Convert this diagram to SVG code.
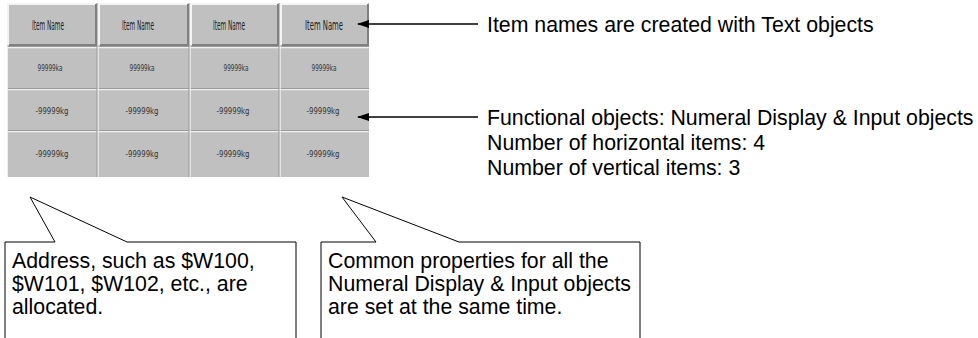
<svg xmlns="http://www.w3.org/2000/svg" width="978" height="338" viewBox="0 0 978 338">
<style>
.cell{fill:#c0c0c0}
.hi{stroke:#f4f4f4;stroke-width:2;fill:none}
.sh{stroke:#808080;stroke-width:2;fill:none}
.hdr{font-family:"DejaVu Sans Condensed","Liberation Sans Narrow","Liberation Sans",sans-serif;font-size:14px;fill:#222;text-anchor:middle}
.val{font-family:"DejaVu Sans Condensed","Liberation Sans",sans-serif;font-size:9px;fill:#333;text-anchor:middle}
.lbl{font-family:"Liberation Sans",Arial,sans-serif;font-size:21.3px;fill:#000}
.line{stroke:#000;stroke-width:1.5;fill:none}
.call{stroke:#000;stroke-width:1;fill:#fff}
</style>
<defs>
<marker id="ah" viewBox="0 0 12 10" refX="11" refY="5" markerWidth="12" markerHeight="10" markerUnits="userSpaceOnUse" orient="auto">
<path d="M0,1 L12,5 L0,9 Z" fill="#000"/>
</marker>
</defs>
<g id="grid">
<rect x="7" y="3" width="362" height="174" fill="#c0c0c0"/>
<g id="header">
<g id="h1"><rect class="cell" x="8" y="3" width="89" height="43"/><path class="hi" d="M8,45 V4 H96"/><path class="sh" d="M9,45 H96 V4"/><text class="hdr" x="48" y="30" textLength="32" lengthAdjust="spacingAndGlyphs">Item Name</text></g>
<g id="h2"><rect class="cell" x="99" y="3" width="90" height="43"/><path class="hi" d="M99,45 V4 H188"/><path class="sh" d="M100,45 H188 V4"/><text class="hdr" x="138" y="30" textLength="32" lengthAdjust="spacingAndGlyphs">Item Name</text></g>
<g id="h3"><rect class="cell" x="191" y="3" width="88" height="43"/><path class="hi" d="M191,45 V4 H278"/><path class="sh" d="M192,45 H278 V4"/><text class="hdr" x="229" y="30" textLength="32" lengthAdjust="spacingAndGlyphs">Item Name</text></g>
<g id="h4"><rect class="cell" x="281" y="3" width="88" height="43"/><path class="hi" d="M281,45 V4 H368"/><path class="sh" d="M282,45 H368 V4"/><text class="hdr" x="324" y="30" textLength="38" lengthAdjust="spacingAndGlyphs">Item Name</text></g>
</g>
<g id="rows">
<path d="M7,47.5 H369 M7,89.5 H369 M7,131.5 H369" stroke="#f0f0f0" stroke-width="1.5"/>
<path d="M7,46.5 H369 M7,88.5 H369 M7,130.5 H369" stroke="#9a9a9a" stroke-width="1"/>
<path d="M98,46 V177 M190,46 V177 M280,46 V177" stroke="#f0f0f0" stroke-width="1.5"/>
<path d="M97,46 V177 M189,46 V177 M279,46 V177" stroke="#9a9a9a" stroke-width="1"/>
<path d="M7.5,46 V177" stroke="#f0f0f0" stroke-width="1"/>
<g id="r1">
<text class="val" x="50" y="71" textLength="25" lengthAdjust="spacingAndGlyphs">99999ka</text><text class="val" x="142" y="71" textLength="25" lengthAdjust="spacingAndGlyphs">99999ka</text><text class="val" x="236" y="71" textLength="25" lengthAdjust="spacingAndGlyphs">99999ka</text><text class="val" x="324" y="71" textLength="25" lengthAdjust="spacingAndGlyphs">99999ka</text>
</g>
<g id="r2">
<text class="val" x="52" y="114" textLength="33" lengthAdjust="spacingAndGlyphs">-99999kg</text><text class="val" x="142" y="114" textLength="33" lengthAdjust="spacingAndGlyphs">-99999kg</text><text class="val" x="233" y="114" textLength="33" lengthAdjust="spacingAndGlyphs">-99999kg</text><text class="val" x="323" y="114" textLength="33" lengthAdjust="spacingAndGlyphs">-99999kg</text>
</g>
<g id="r3">
<text class="val" x="52" y="157" textLength="33" lengthAdjust="spacingAndGlyphs">-99999kg</text><text class="val" x="142" y="157" textLength="33" lengthAdjust="spacingAndGlyphs">-99999kg</text><text class="val" x="233" y="157" textLength="33" lengthAdjust="spacingAndGlyphs">-99999kg</text><text class="val" x="323" y="157" textLength="33" lengthAdjust="spacingAndGlyphs">-99999kg</text>
</g>
</g>
</g>
<g id="connectors">
<line class="line" x1="478" y1="24" x2="358" y2="24" marker-end="url(#ah)"/>
<line class="line" x1="478" y1="117" x2="358" y2="117" marker-end="url(#ah)"/>
</g>
<g id="label-top"><text class="lbl" x="487" y="32">Item names are created with Text objects</text></g>
<g id="label-func">
<text class="lbl" x="487" y="125">Functional objects: Numeral Display &amp; Input objects</text>
<text class="lbl" x="487" y="150">Number of horizontal items: 4</text>
<text class="lbl" x="487" y="175">Number of vertical items: 3</text>
</g>
<g id="callout1">
<path class="call" d="M5,339 V242 H55 L30,197 L127,242 H296 V339"/>
<text class="lbl" x="12" y="268">Address, such as $W100,</text>
<text class="lbl" x="12" y="291">$W101, $W102, etc., are</text>
<text class="lbl" x="12" y="314">allocated.</text>
</g>
<g id="callout2">
<path class="call" d="M321,339 V242 H376 L342,197 L459,242 H640 V339"/>
<text class="lbl" x="328" y="268">Common properties for all the</text>
<text class="lbl" x="328" y="291">Numeral Display &amp; Input objects</text>
<text class="lbl" x="328" y="314">are set at the same time.</text>
</g>
</svg>
